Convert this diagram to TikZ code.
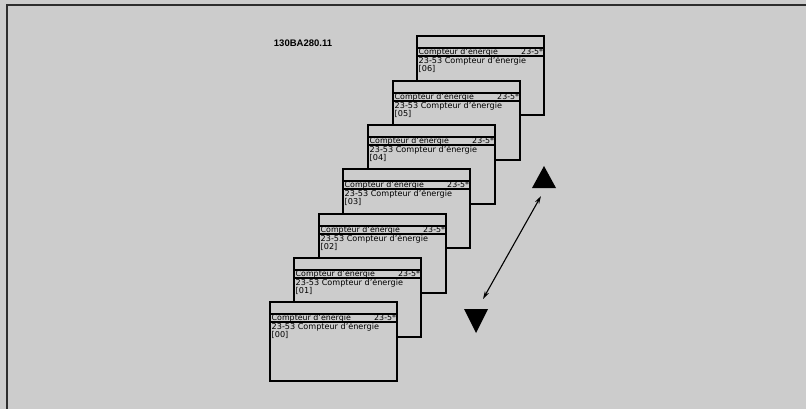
\documentclass[tikz,border=0pt]{standalone}
\usepackage{fontspec}
\setmainfont{DejaVu Sans}
\newfontfamily\codefont{Liberation Sans}
\definecolor{panelgray}{RGB}{204,204,204}
\definecolor{framegray}{RGB}{45,45,45}
\usetikzlibrary{arrows.meta,positioning}

\begin{document}
\begin{tikzpicture}[
  x=1pt,y=-1pt,
  screen/.style={
    draw,
    line width=1.8pt,
    fill=panelgray,
    minimum width=127pt,
    minimum height=79pt,
    inner sep=0pt,
    anchor=north west
  },
  rule/.style={line width=1.5pt},
  txt/.style={font=\fontsize{8.1}{9}\selectfont,inner sep=0pt},
  head/.style={font=\fontsize{7.9}{9}\selectfont,inner sep=0pt},
  arrow/.style={{Stealth[length=8pt,width=4.5pt]}-{Stealth[length=8pt,width=4.5pt]},line width=1.1pt}
]
\fill[panelgray] (0,0) rectangle (806,409);
\useasboundingbox (0,0) rectangle (806,409);
\draw[framegray,line width=1.8pt] (7,409) -- (7,5) -- (806,5);

\node[font=\codefont\bfseries\fontsize{9.5}{10}\selectfont,inner sep=0pt] (code) at (303,43) {130BA280.11};

% stack of display screens, back to front
\foreach \i/\x/\y in {6/416/35,5/392/80,4/367/124,3/342/168,2/318/213,1/293/257,0/269/301}{
  \node[screen] (s\i) at (\x,\y) {};
  \draw[rule] ([yshift=-13pt]s\i.north west) -- ([yshift=-13pt]s\i.north east);
  \draw[rule] ([yshift=-21pt]s\i.north west) -- ([yshift=-21pt]s\i.north east);
  \node[head,anchor=base west] (t\i) at ([xshift=2.5pt,yshift=-19.3pt]s\i.north west) {Compteur d'énergie};
  \node[head,anchor=base east] (g\i) at ([xshift=-1.5pt,yshift=-19.3pt]s\i.north east) {23-5*};
  \node[txt,anchor=base west] (p\i) at ([xshift=2.5pt,yshift=-28.8pt]s\i.north west) {23-53 Compteur d'énergie};
  \node[txt,anchor=base west] (v\i) at ([xshift=2.5pt,yshift=-36.8pt]s\i.north west) {[0\i]};
}

% scroll keys
\fill (532,188) -- (556,188) -- (544,166) -- cycle;
\fill (464,309) -- (488,309) -- (476,333) -- cycle;
\coordinate (up) at (541,196);
\coordinate (dn) at (483,299);
\draw[arrow] (dn) -- (up);
\end{tikzpicture}
\end{document}
